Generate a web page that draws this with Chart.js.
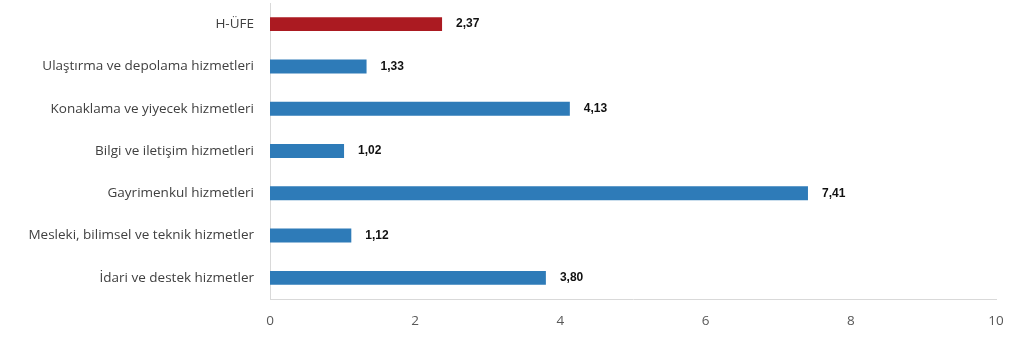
<!DOCTYPE html>
<html>
<head>
<meta charset="utf-8">
<script src="https://cdn.jsdelivr.net/npm/chart.js@4"></script>
<style>
  html, body { margin: 0; padding: 0; background: #fff; }
  #wrap { width: 1024px; height: 349px; }
</style>
</head>
<body>
<div id="wrap"><canvas id="hufeChart" width="1024" height="349"></canvas></div>
<script>
const categories = [
  "H-ÜFE",
  "Ulaştırma ve depolama hizmetleri",
  "Konaklama ve yiyecek hizmetleri",
  "Bilgi ve iletişim hizmetleri",
  "Gayrimenkul hizmetleri",
  "Mesleki, bilimsel ve teknik hizmetler",
  "İdari ve destek hizmetler"
];
const changes = [2.37, 1.33, 4.13, 1.02, 7.41, 1.12, 3.80];
const xTicks = [0, 2, 4, 6, 8, 10];

const RED = "#ab1a21";
const BLUE = "#2e7bb8";

// writes the value next to the end of each bar, turkish decimal comma
const valueLabels = {
  id: "valueLabels",
  afterDatasetsDraw(chart) {
    const ctx = chart.ctx;
    const meta = chart.getDatasetMeta(0);
    ctx.save();
    ctx.font = "bold 12px 'Liberation Sans', Arial, sans-serif";
    ctx.fillStyle = "#111";
    ctx.textAlign = "left";
    ctx.textBaseline = "middle";
    meta.data.forEach((bar, i) => {
      const txt = changes[i].toFixed(2).replace(".", ",");
      ctx.fillText(txt, bar.x + 14, bar.y);
    });
    ctx.restore();
  }
};

const ctx = document.getElementById("hufeChart").getContext("2d");
new Chart(ctx, {
  type: "bar",
  data: {
    labels: categories,
    datasets: [{
      data: changes,
      backgroundColor: categories.map((c, i) => i === 0 ? RED : BLUE),
      borderWidth: 0,
      barPercentage: 0.66,
      categoryPercentage: 0.5
    }]
  },
  plugins: [valueLabels],
  options: {
    indexAxis: "y",
    responsive: false,
    animation: false,
    layout: { padding: { top: 3, right: 28, bottom: 0, left: 0 } },
    plugins: {
      legend: { display: false },
      tooltip: { enabled: false }
    },
    scales: {
      x: {
        min: 0,
        max: 10,
        afterBuildTicks: s => { s.ticks = xTicks.map(v => ({ value: v })); },
        afterFit: s => { s.height = 50; },
        grid: { display: false, drawTicks: false },
        border: { display: true, color: "#d9d9d9", width: 1 },
        ticks: {
          padding: 14,
          color: "#595959",
          font: { family: "'Open Sans', sans-serif", size: 13.5 }
        }
      },
      y: {
        afterFit: s => {
          s.width = 270;
          s.paddingTop = 0;
          s.paddingBottom = 0;
        },
        grid: { display: false, drawTicks: false },
        border: { display: true, color: "#d9d9d9", width: 1 },
        ticks: {
          padding: 16,
          color: "#404040",
          font: { family: "'Open Sans', sans-serif", size: 13.5 }
        }
      }
    }
  }
});
</script>
</body>
</html>
